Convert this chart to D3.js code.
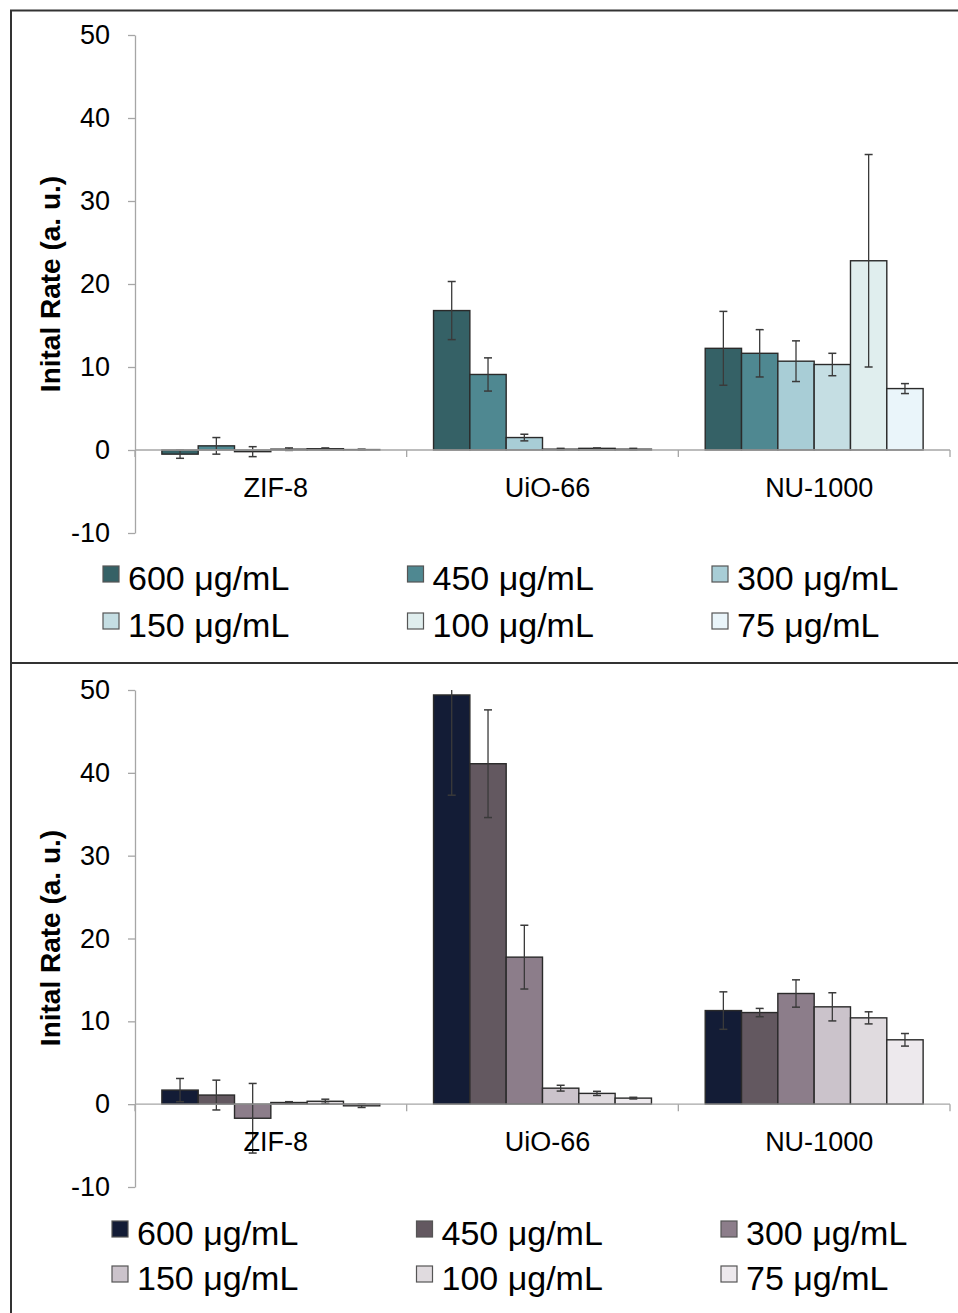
<!DOCTYPE html>
<html>
<head>
<meta charset="utf-8">
<script src="https://cdn.jsdelivr.net/npm/d3@7"></script>
<style>
  html, body { margin: 0; padding: 0; background: #fff; }
  svg { display: block; font-family: "Liberation Sans", Arial, sans-serif; }
</style>
</head>
<body>
<svg id="chart" width="958" height="1313"></svg>
<script>
// Materials on the category axis
const categories = ["ZIF-8", "UiO-66", "NU-1000"];
// Concentration series (legend order)
const concentrations = ["600 μg/mL", "450 μg/mL", "300 μg/mL", "150 μg/mL", "100 μg/mL", "75 μg/mL"];
const yTicks = [-10, 0, 10, 20, 30, 40, 50];

// Upper panel: mean initial rate per material, one value per concentration
const upperMeans = [
  [-0.5, 0.5, -0.2, 0.1, 0.15, 0.05],
  [16.8, 9.1, 1.5, 0.1, 0.2, 0.1],
  [12.25, 11.65, 10.7, 10.3, 22.8, 7.4]
];
const upperErrors = [
  [0.5, 1.0, 0.6, 0.15, 0.1, 0.05],
  [3.5, 2.0, 0.4, 0.1, 0.05, 0.1],
  [4.45, 2.85, 2.45, 1.35, 12.8, 0.6]
];
const upperColors = ["#356166", "#4f8891", "#a8cdd6", "#c5dee3", "#e0eeee", "#eaf5fa"];

// Lower panel
const lowerMeans = [
  [1.7, 1.1, -1.7, 0.2, 0.35, -0.2],
  [49.4, 41.1, 17.75, 1.93, 1.3, 0.73],
  [11.3, 11.06, 13.36, 11.75, 10.42, 7.77]
];
const lowerErrors = [
  [1.4, 1.8, 4.2, 0.1, 0.25, 0.2],
  [12.1, 6.5, 3.85, 0.35, 0.25, 0.1],
  [2.26, 0.5, 1.65, 1.7, 0.73, 0.76]
];
const lowerColors = ["#131c36", "#635860", "#8c7d8a", "#cbc3cb", "#e0dbdf", "#ede9ed"];

const svg = d3.select("#chart");

// Outer frame and panel divider
svg.append("line").attr("x1", 10).attr("x2", 958).attr("y1", 10.5).attr("y2", 10.5)
  .attr("stroke", "#333").attr("stroke-width", 2);
svg.append("line").attr("x1", 11).attr("x2", 11).attr("y1", 10).attr("y2", 1313)
  .attr("stroke", "#333").attr("stroke-width", 2);
svg.append("line").attr("x1", 11).attr("x2", 958).attr("y1", 663).attr("y2", 663)
  .attr("stroke", "#333").attr("stroke-width", 2);

function drawPanel(cfg) {
  const g = svg.append("g");
  const y = d3.scaleLinear().domain([-10, 50]).range([cfg.yBottom, cfg.yTop]);
  const x0 = d3.scaleBand().domain(categories).range([135, 950]).padding(0);
  const x1 = d3.scaleBand().domain(d3.range(concentrations.length))
    .range([0, x0.bandwidth()]).paddingInner(0).paddingOuter(0.74);

  const axisColor = "#a6a6a6";

  // Y axis
  const yAxis = d3.axisLeft(y).tickValues(yTicks).tickFormat(d => String(d))
    .tickSize(7).tickSizeOuter(0).tickPadding(18);
  const ya = g.append("g").attr("transform", "translate(135,0)").call(yAxis);
  ya.select(".domain").attr("stroke", axisColor).attr("stroke-width", 1.3);
  ya.selectAll(".tick line").attr("stroke", axisColor).attr("stroke-width", 1.3);
  ya.selectAll(".tick text").attr("fill", "#000").style("font-size", "27px")
    .style("font-family", "Liberation Sans, Arial, sans-serif");

  // Y axis title
  g.append("text")
    .attr("transform", `translate(60,${cfg.titleY}) rotate(-90)`)
    .attr("text-anchor", "middle")
    .style("font-size", "28px").style("font-weight", "bold")
    .text("Inital Rate (a. u.)");

  // Bars
  const groups = g.selectAll(".grp").data(categories).join("g")
    .attr("transform", d => `translate(${x0(d)},0)`);

  groups.each(function (cat, ci) {
    const gg = d3.select(this);
    const rows = cfg.means[ci].map((v, si) => ({ v, e: cfg.errors[ci][si], si }));
    gg.selectAll("rect").data(rows).join("rect")
      .attr("x", d => x1(d.si))
      .attr("width", x1.bandwidth())
      .attr("y", d => y(Math.max(0, d.v)))
      .attr("height", d => Math.abs(y(d.v) - y(0)))
      .attr("fill", d => cfg.colors[d.si])
      .attr("stroke", "#2a2a2a").attr("stroke-width", 1.4);

    // Error bars, clipped to the value axis range
    const eb = gg.selectAll(".err").data(rows).join("g").attr("class", "err")
      .attr("transform", d => `translate(${x1(d.si) + x1.bandwidth() / 2},0)`);
    const hi = d => y(Math.min(50, d.v + d.e));
    const lo = d => y(Math.max(-10, d.v - d.e));
    eb.append("line").attr("y1", hi).attr("y2", lo)
      .attr("stroke", "#3a3a3a").attr("stroke-width", 1.3);
    eb.filter(d => d.v + d.e <= 50).append("line")
      .attr("x1", -4).attr("x2", 4).attr("y1", hi).attr("y2", hi)
      .attr("stroke", "#3a3a3a").attr("stroke-width", 1.5);
    eb.filter(d => d.v - d.e >= -10).append("line")
      .attr("x1", -4).attr("x2", 4).attr("y1", lo).attr("y2", lo)
      .attr("stroke", "#3a3a3a").attr("stroke-width", 1.5);
  });

  // Category axis along zero
  g.append("line").attr("x1", 135).attr("x2", 950)
    .attr("y1", y(0)).attr("y2", y(0))
    .attr("stroke", axisColor).attr("stroke-width", 1.3);
  const bounds = categories.map(c => x0(c)).concat([x0.range()[1]]);
  g.selectAll(".ctick").data(bounds).join("line")
    .attr("x1", d => d).attr("x2", d => d)
    .attr("y1", y(0)).attr("y2", y(0) + 7)
    .attr("stroke", axisColor).attr("stroke-width", 1.3);
  g.selectAll(".clabel").data(categories).join("text")
    .attr("x", d => x0(d) + x0.bandwidth() / 2 + 5)
    .attr("y", y(0) + 47)
    .attr("text-anchor", "middle")
    .style("font-size", "27px")
    .text(d => d);

  // Legend
  const leg = g.selectAll(".leg").data(concentrations).join("g")
    .attr("transform", (d, i) =>
      `translate(${cfg.legX + (i % 3) * 304.5},${cfg.legY + Math.floor(i / 3) * cfg.legRow})`);
  leg.append("rect").attr("x", 0).attr("y", -24).attr("width", 16).attr("height", 16)
    .attr("fill", (d, i) => cfg.colors[i])
    .attr("stroke", "#555").attr("stroke-width", 1.2);
  leg.append("text").attr("x", 25).attr("y", 0)
    .style("font-size", "34px")
    .text(d => d);
}

drawPanel({
  yTop: 35, yBottom: 533, titleY: 284,
  means: upperMeans, errors: upperErrors, colors: upperColors,
  legX: 103, legY: 590, legRow: 47
});

drawPanel({
  yTop: 690, yBottom: 1187, titleY: 938,
  means: lowerMeans, errors: lowerErrors, colors: lowerColors,
  legX: 112, legY: 1245, legRow: 45
});
</script>
</body>
</html>
